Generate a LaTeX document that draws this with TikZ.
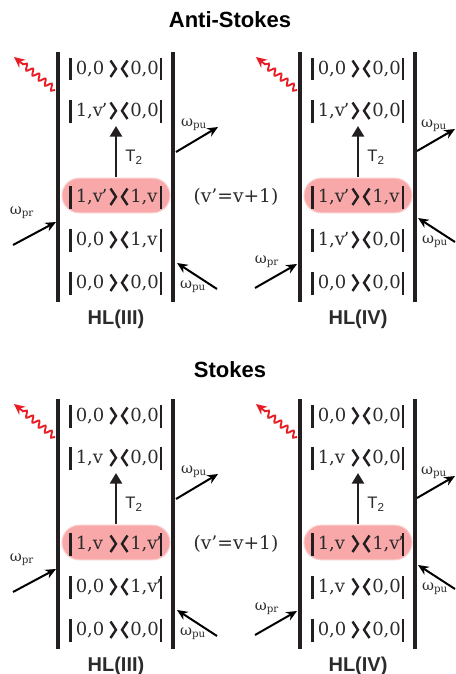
\documentclass[tikz,border=0pt]{standalone}
\usepackage{fontspec}
\setmainfont{DejaVu Serif}
\newfontfamily\sansfam{Liberation Sans}
\usetikzlibrary{arrows.meta,decorations.pathmorphing}
\definecolor{barc}{HTML}{231F20}
\definecolor{txtc}{HTML}{2B2B2B}
\definecolor{hlfill}{RGB}{248,168,168}
\definecolor{hldraw}{RGB}{251,205,205}
\definecolor{wavec}{RGB}{232,28,36}
\tikzset{
  x=0.75pt, y=-0.75pt,
  bigbar/.style={line width=3pt, draw=barc},
  tbar/.style={line width=2.2pt, draw=barc},
  chev/.style={line width=1.8pt, draw=barc, line join=miter},
  kettext/.style={font=\fontsize{13.5}{15}\selectfont, text=txtc, inner sep=0pt, anchor=base west},
  eqtext/.style={font=\fontsize{14}{16}\selectfont, text=txtc, inner sep=0pt, anchor=base},
  hlbox/.style={fill=hlfill, draw=hldraw, line width=0.8pt, rounded corners=13pt,
    minimum width=81pt, minimum height=26pt, inner sep=0pt},
  t2arrow/.style={line width=2.2pt, draw=barc, -{Triangle[length=8pt,width=9pt]}},
  t2lab/.style={font=\sansfam\fontsize{12.5}{14}\selectfont, text=txtc, inner sep=0pt},
  beam/.style={line width=1.5pt, draw=black, -{Stealth[length=8pt,width=7pt]}},
  wlab/.style={font=\fontsize{11}{13}\selectfont, text=txtc, inner sep=0pt},
  wavy/.style={draw=wavec, line width=1.4pt, -{Stealth[length=8pt,width=7.5pt]},
    decorate, decoration={snake, amplitude=2.2pt, segment length=6pt, post length=8pt}},
  hllab/.style={font=\sansfam\bfseries\fontsize{15}{17}\selectfont, text=txtc, inner sep=0pt},
  titlelab/.style={font=\sansfam\bfseries\fontsize{16.5}{18}\selectfont, text=black, inner sep=0pt},
}
\newcommand\vp{v\kern-0.08em’}
\newcommand\krow[4]{%
  \draw[tbar] (70.5,#2-10) -- (70.5,#2+12.5);
  \draw[tbar] (161,#2-10) -- (161,#2+12.5);
  \draw[chev] (110.5,#2-7.5) -- (116,#2+0.8) -- (110.5,#2+9);
  \draw[chev] (127.5,#2-7.5) -- (122,#2+0.8) -- (127.5,#2+9);
  \node[kettext] (#1L) at (75.5,#2+6.5) {#3};
  \node[kettext] (#1R) at (130,#2+6.5) {#4};
}
\newcommand\hlframe[2]{%
  \draw[bigbar] (58,52) -- (58,302);
  \draw[bigbar] (173,52) -- (173,302);
  \node[hlbox] (#1hl) at (116,195.5) {};
  \coordinate (#1t2s) at (116,177);
  \coordinate (#1t2e) at (116,126);
  \draw[t2arrow] (#1t2s) -- (#1t2e);
  \node[t2lab] (#1t2) at (134,157) {T\textsubscript{2}};
  \coordinate (#1ws) at (55,90);
  \coordinate (#1we) at (14,57);
  \draw[wavy] (#1ws) -- (#1we);
  \node[hllab] (#1name) at (116,319) {#2};
}
\newcommand\beamsIII[1]{%
  \coordinate (#1a) at (13,245); \coordinate (#1b) at (56,222);
  \draw[beam] (#1a) -- (#1b);
  \node[wlab] (#1wpr) at (22,213) {ω\textsubscript{pr}};
  \coordinate (#1c) at (176,152); \coordinate (#1d) at (218,127);
  \draw[beam] (#1c) -- (#1d);
  \node[wlab] (#1wpua) at (194,125) {ω\textsubscript{pu}};
  \coordinate (#1e) at (217,289); \coordinate (#1f) at (177,263);
  \draw[beam] (#1e) -- (#1f);
  \node[wlab] (#1wpub) at (193,287) {ω\textsubscript{pu}};
}
\newcommand\beamsIV[1]{%
  \coordinate (#1a) at (13,288); \coordinate (#1b) at (55,264);
  \draw[beam] (#1a) -- (#1b);
  \node[wlab] (#1wpr) at (25,262) {ω\textsubscript{pr}};
  \coordinate (#1c) at (175,151); \coordinate (#1d) at (213,129);
  \draw[beam] (#1c) -- (#1d);
  \node[wlab] (#1wpua) at (192,126) {ω\textsubscript{pu}};
  \coordinate (#1e) at (213,242); \coordinate (#1f) at (176,218);
  \draw[beam] (#1e) -- (#1f);
  \node[wlab] (#1wpub) at (193,242) {ω\textsubscript{pu}};
}
\begin{document}
\begin{tikzpicture}
\path[fill=white, use as bounding box] (0,0) rectangle (455,674);
\node[titlelab] (t1) at (230,20) {Anti-Stokes};
\node[titlelab] (t2) at (230,370) {Stokes};
% Anti-Stokes HL(III)
\begin{scope}
  \hlframe{a}{HL(III)}
  \krow{a1}{68}{0,0}{0,0}
  \krow{a2}{110}{1,\vp}{0,0}
  \krow{a3}{196}{1,\vp}{1,v}
  \krow{a4}{239}{0,0}{1,v}
  \krow{a5}{282}{0,0}{0,0}
  \beamsIII{a}
\end{scope}
\node[eqtext] (eqa) at (236,202.5) {(v’=v+1)};
% Anti-Stokes HL(IV)
\begin{scope}[shift={(242,0)}]
  \hlframe{b}{HL(IV)}
  \krow{b1}{68}{0,0}{0,0}
  \krow{b2}{110}{1,\vp}{0,0}
  \krow{b3}{196}{1,\vp}{1,v}
  \krow{b4}{239}{1,\vp}{0,0}
  \krow{b5}{282}{0,0}{0,0}
  \beamsIV{b}
\end{scope}
% Stokes HL(III)
\begin{scope}[shift={(0,347)}]
  \hlframe{c}{HL(III)}
  \krow{c1}{68}{0,0}{0,0}
  \krow{c2}{110}{1,v}{0,0}
  \krow{c3}{196}{1,v}{1,\vp}
  \krow{c4}{239}{0,0}{1,\vp}
  \krow{c5}{282}{0,0}{0,0}
  \beamsIII{c}
  \node[eqtext] (eqc) at (236,202.5) {(v’=v+1)};
\end{scope}
% Stokes HL(IV)
\begin{scope}[shift={(242,347)}]
  \hlframe{d}{HL(IV)}
  \krow{d1}{68}{0,0}{0,0}
  \krow{d2}{110}{1,v}{0,0}
  \krow{d3}{196}{1,v}{1,\vp}
  \krow{d4}{239}{1,v}{0,0}
  \krow{d5}{282}{0,0}{0,0}
  \beamsIV{d}
\end{scope}
\end{tikzpicture}
\end{document}
